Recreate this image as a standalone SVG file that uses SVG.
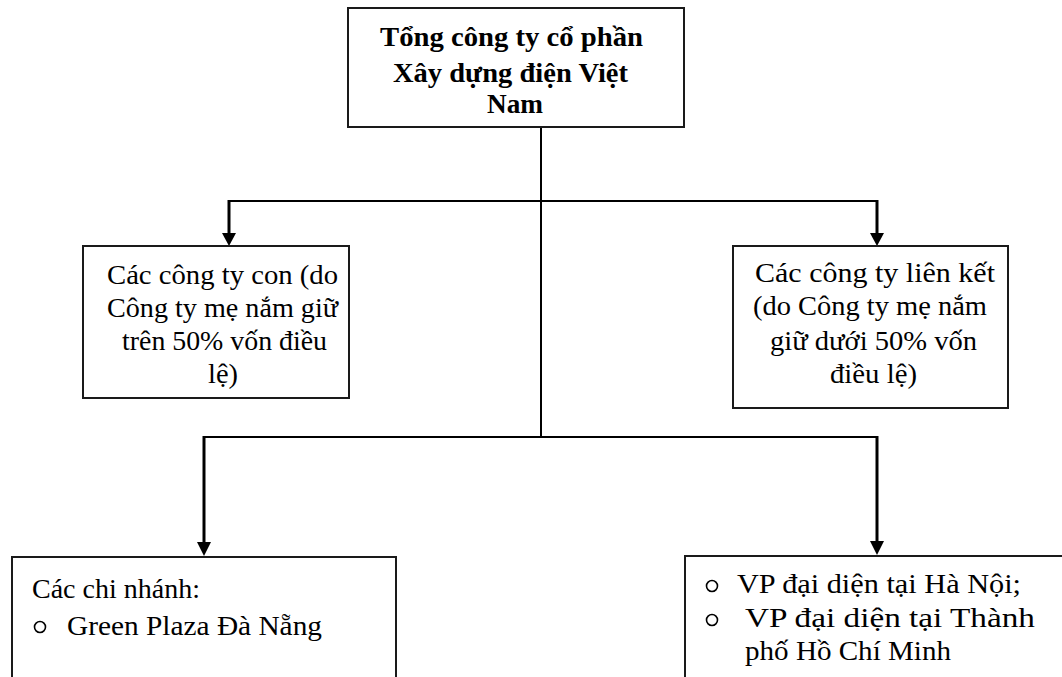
<svg xmlns="http://www.w3.org/2000/svg" width="1062" height="677" viewBox="0 0 1062 677">
<style>
.box{fill:#fff;stroke:#1a1a1a;stroke-width:2}
.t{font-family:"Liberation Serif","Times New Roman",serif;font-size:27.5px;fill:#000}
.b{font-weight:bold;font-size:28px}
.ln{fill:none;stroke:#000;stroke-width:2}
.st{fill:none;stroke:#000;stroke-width:3}
.bul{fill:none;stroke:#000;stroke-width:1.6}
</style>
<rect width="1062" height="677" fill="#fff"/>
<g id="connectors">
<line class="ln" x1="541" y1="127" x2="541" y2="437"/>
<polyline class="ln" points="229,201 877,201"/>
<polyline class="ln" points="204,437 877,437"/>
<line class="st" x1="229" y1="200" x2="229" y2="233"/>
<path d="M222,233 L236,233 L229,246 Z" fill="#000"/>
<line class="st" x1="877" y1="200" x2="877" y2="233"/>
<path d="M870,233 L884,233 L877,246 Z" fill="#000"/>
<line class="st" x1="204" y1="436" x2="204" y2="543"/>
<path d="M197,542 L211,542 L204,556 Z" fill="#000"/>
<line class="st" x1="877" y1="436" x2="877" y2="542"/>
<path d="M870,541 L884,541 L877,555 Z" fill="#000"/>
</g>
<g id="node-top">
<rect class="box" x="348" y="8" width="336" height="119"/>
<text class="t b" x="380" y="46" textLength="263" lengthAdjust="spacingAndGlyphs">Tổng công ty cổ phần</text>
<text class="t b" x="393" y="82" textLength="235" lengthAdjust="spacingAndGlyphs">Xây dựng điện Việt</text>
<text class="t b" x="487" y="113" textLength="56" lengthAdjust="spacingAndGlyphs">Nam</text>
</g>
<g id="node-subsidiaries">
<rect class="box" x="83" y="246" width="266" height="152"/>
<text class="t" x="107" y="284" textLength="231" lengthAdjust="spacingAndGlyphs">Các công ty con (do</text>
<text class="t" x="107" y="317" textLength="231" lengthAdjust="spacingAndGlyphs">Công ty mẹ nắm giữ</text>
<text class="t" x="122" y="350" textLength="205" lengthAdjust="spacingAndGlyphs">trên 50% vốn điều</text>
<text class="t" x="208" y="383" textLength="30" lengthAdjust="spacingAndGlyphs">lệ)</text>
</g>
<g id="node-associates">
<rect class="box" x="733" y="246" width="275" height="162"/>
<text class="t" x="755" y="282" textLength="240" lengthAdjust="spacingAndGlyphs">Các công ty liên kết</text>
<text class="t" x="753" y="315" textLength="234" lengthAdjust="spacingAndGlyphs">(do Công ty mẹ nắm</text>
<text class="t" x="770" y="350" textLength="207" lengthAdjust="spacingAndGlyphs">giữ dưới 50% vốn</text>
<text class="t" x="830" y="383" textLength="87" lengthAdjust="spacingAndGlyphs">điều lệ)</text>
</g>
<g id="node-branches">
<rect class="box" x="12" y="557" width="384" height="140"/>
<text class="t" x="32" y="598" textLength="168" lengthAdjust="spacingAndGlyphs">Các chi nhánh:</text>
<circle class="bul" cx="40" cy="627" r="5.5"/>
<text class="t" x="67" y="635" textLength="255" lengthAdjust="spacingAndGlyphs">Green Plaza Đà Nẵng</text>
</g>
<g id="node-offices">
<rect class="box" x="685" y="556" width="400" height="140"/>
<circle class="bul" cx="712" cy="586" r="5.5"/>
<text class="t" x="737" y="593" textLength="284" lengthAdjust="spacingAndGlyphs">VP đại diện tại Hà Nội;</text>
<circle class="bul" cx="712" cy="620" r="5.5"/>
<text class="t" x="745" y="627" textLength="290" lengthAdjust="spacingAndGlyphs">VP đại diện tại Thành</text>
<text class="t" x="745" y="660" textLength="206" lengthAdjust="spacingAndGlyphs">phố Hồ Chí Minh</text>
</g>
</svg>
